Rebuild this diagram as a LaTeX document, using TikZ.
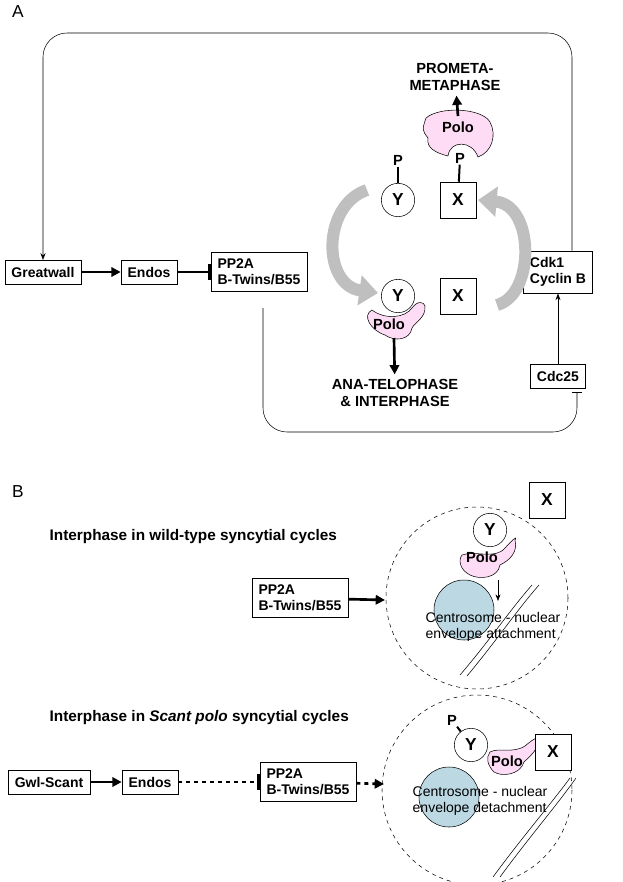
\documentclass[tikz,border=0pt]{standalone}
\usepackage{fontspec}
\setmainfont{Liberation Sans}
\usetikzlibrary{arrows.meta}
\begin{document}
\begin{tikzpicture}[x=0.75pt,y=-0.75pt,
 box/.style={draw,fill=white,font=\bfseries\fontsize{10.5}{12}\selectfont,inner xsep=5pt,inner ysep=5pt,align=left},
 bx/.style={draw,fill=white,font=\bfseries\fontsize{13}{14}\selectfont,minimum size=27pt,inner sep=0},
 yc/.style={draw,circle,fill=white,font=\bfseries\fontsize{13}{14}\selectfont,minimum size=25pt,inner sep=0},
 lbl/.style={font=\bfseries\fontsize{11}{13}\selectfont,align=center},
 tt/.style={font=\bfseries\fontsize{11.5}{13}\selectfont,anchor=west},
 pp/.style={font=\bfseries\fontsize{11}{12}\selectfont,inner sep=1pt},
 big/.style={-{Triangle[length=7pt,width=7pt]},line width=2pt},
 inh/.style={-{Bar[width=12pt]},line width=2pt},
 dots/.style={dash pattern=on 3pt off 3pt},
 gray arr/.style={line width=9pt,draw=gray!50,-{Triangle[length=14pt,width=22pt]}},
 cen/.style={draw,fill=cyan!25!teal!30,circle,minimum size=45pt,inner sep=0},
 polo/.style={draw,fill=pink!60!magenta!25}]
\useasboundingbox (0,0) rectangle (623,882);
\node[font=\fontsize{13}{14}\selectfont] at (18,12) {A};
\node[font=\fontsize{13}{14}\selectfont] at (18,492) {B};
% Panel A
\node[box] (gw) at (43,272) {Greatwall};
\node[box] (en) at (149,272) {Endos};
\node[box] (pp) at (259,272) {PP2A\\B-Twins/B55};
\node[box] (cdk) at (558,272) {Cdk1\\Cyclin B};
\node[box] (cdc) at (558,376) {Cdc25};
\draw[big] (gw) -- (en);
\draw[inh] (en) -- (pp);
\draw[-{Stealth[length=5pt]}] (cdc) -- (cdk);
\draw[-{Stealth[length=5pt]},rounded corners=18pt] (cdk.north -| 572,0) -- (572,33) -- (43,33) -- (gw.north);
\coordinate (pb) at (263,308);
\coordinate (cb) at (577,392);
\draw[-{Bar[width=8pt]},rounded corners=18pt] (pb) -- (263,432) -- (577,432) -- (cb);
% gray arcs
\draw[gray arr] (367,190) .. controls (322,205) and (322,285) .. (378,293);
\draw[gray arr] (497,305) .. controls (535,295) and (535,205) .. (478,200);
% top
\node[yc] (y1) at (398,200) {Y};
\node[bx] (x1) at (458,200) {X};
\node[pp] (p1) at (398,160) {P};
\draw[line width=1.5pt] (p1) -- (y1);
\draw[polo] (426,118) .. controls (440,106) and (482,108) .. (490,122) .. controls (497,135) and (492,152) .. (478,157) .. controls (472,140) and (450,140) .. (448,156) .. controls (436,153) and (426,148) .. (428,138) .. controls (422,130) .. cycle;
\node[pp] (polo1) at (458,127) {Polo};
\node[pp] (p2) at (460,158) {P};
\draw[line width=1.5pt] (p2) -- (x1);
\node[lbl] (pm) at (455,77) {PROMETA-\\METAPHASE};
\draw[big] (458,116) -- (pm);
% bottom
\node[bx] (x2) at (458,296) {X};
\draw[polo] (372,310) .. controls (385,320) and (405,318) .. (412,308) .. controls (418,300) and (424,302) .. (425,306) .. controls (426,318) and (415,322) .. (412,328) .. controls (410,340) and (395,342) .. (385,335) .. controls (370,330) and (362,315) .. cycle;
\node[yc] (y2) at (398,296) {Y};
\node[pp] (polo2) at (389,324) {Polo};
\node[lbl] (at) at (395,393) {ANA-TELOPHASE\\\& INTERPHASE};
\draw[big] (394,338) -- (at);
% Panel B
\node[tt] at (45,537) {Interphase in wild-type syncytial cycles};
\node[box] (pp3) at (300,598) {PP2A\\B-Twins/B55};
\draw[dashed] (477,598) circle[radius=91];
\coordinate (c1w) at (385,600);
\draw[big] (pp3) -- (c1w);
\node[bx] (x3) at (547,500) {X};
\node[cen] at (464,610) {};
\draw (460,675) .. controls (490,640) and (510,610) .. (532,585);
\draw (467,676) .. controls (497,640) and (517,610) .. (539,585);
\draw[polo] (462,555) .. controls (475,550) and (495,560) .. (505,548) .. controls (512,540) and (518,535) .. (515,540) .. controls (518,552) and (510,560) .. (500,565) .. controls (498,578) and (480,580) .. (470,575) .. controls (460,570) and (458,560) .. cycle;
\node[yc] (y3) at (490,530) {Y};
\node[pp] at (482,557) {Polo};
\draw[-{Stealth[length=5pt]}] (498,580) -- (498,601);
\node[font=\fontsize{10.5}{12.5}\selectfont,align=left,anchor=west] at (421,627) {Centrosome - nuclear\\envelope attachment};
\node[tt] at (45,718) {Interphase in \textit{Scant polo} syncytial cycles};
\node[box] (gs) at (49,782) {Gwl-Scant};
\node[box] (en2) at (150,782) {Endos};
\node[box] (pp4) at (308,782) {PP2A\\B-Twins/B55};
\draw[big] (gs) -- (en2);
\draw[inh,dots] (en2) -- (pp4);
\coordinate (c2w) at (384,784);
\draw[big,dots] (pp4) -- (c2w);
\draw[dashed] (477,790) circle[radius=95];
\node[cen] at (449,797) {};
\draw (493,877) .. controls (520,840) and (550,805) .. (570,778);
\draw (500,877) .. controls (527,840) and (557,805) .. (576,778);
\node[yc] (y4) at (471,745) {Y};
\node[pp] (p4) at (452,720) {P};
\draw[line width=1.5pt] (p4) -- (y4);
\draw[polo] (490,752) .. controls (500,747) and (512,754) .. (525,746) .. controls (532,740) and (540,734) .. (539,742) .. controls (536,752) and (528,758) .. (524,762) .. controls (520,775) and (502,777) .. (494,772) .. controls (487,765) and (486,757) .. cycle;
\node[pp] at (507,761) {Polo};
\node[bx] (x4) at (553,752) {X};
\node[font=\fontsize{10.5}{12.5}\selectfont,align=left,anchor=west] at (408,801) {Centrosome - nuclear\\envelope detachment};
\end{tikzpicture}
\end{document}
